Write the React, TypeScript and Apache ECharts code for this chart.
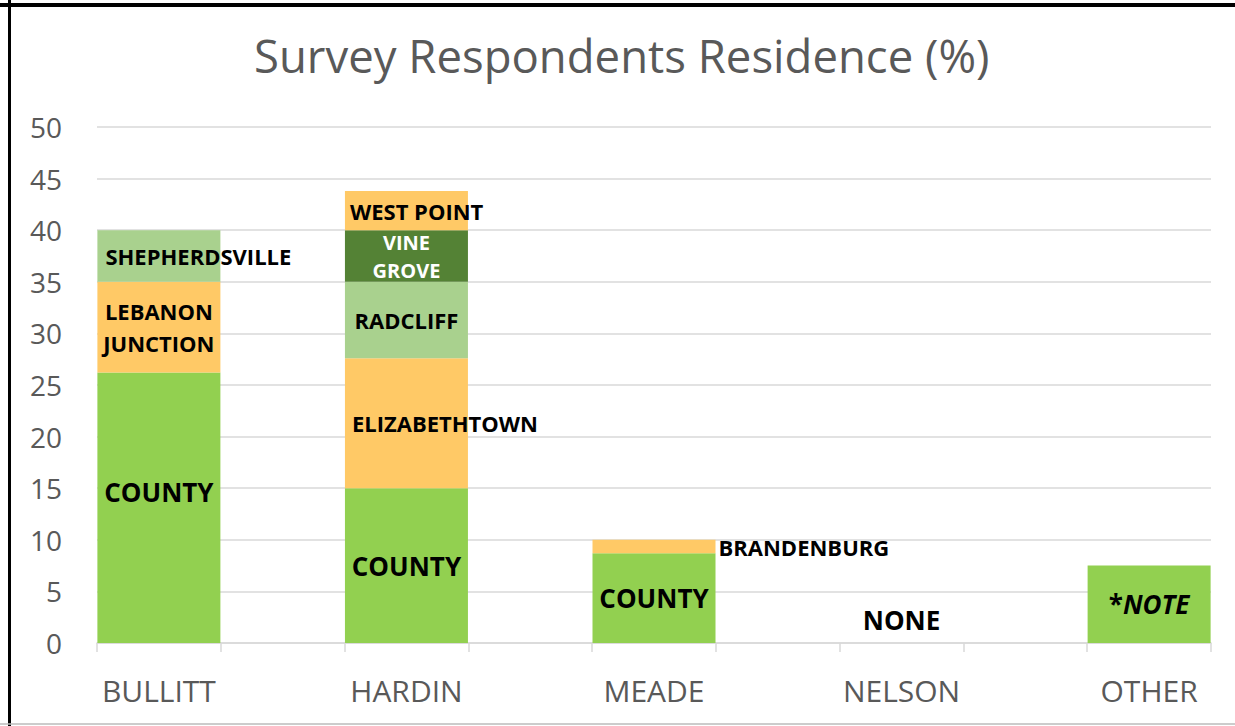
import React, { useEffect, useRef } from 'react';
import * as echarts from 'echarts';

const chartTitle = 'Survey Respondents Residence (%)';
const categories = ['BULLITT', 'HARDIN', 'MEADE', 'NELSON', 'OTHER'];
const yMin = 0;
const yMax = 50;
const yStep = 5;

// stacked layers, bottom to top (null = no segment)
const countyValues = [26.2, 15, 8.7, 0, 7.5];
const countyLabels = ['COUNTY', 'COUNTY', 'COUNTY', 'NONE', '*NOTE'];
const secondValues = [8.8, 12.6, 1.3, null, null];
const secondLabels = ['LEBANON\nJUNCTION', 'ELIZABETHTOWN', 'BRANDENBURG', '', ''];
const thirdValues = [5, 7.4, null, null, null];
const thirdLabels = ['SHEPHERDSVILLE', 'RADCLIFF', '', '', ''];
const fourthValues = [null, 5, null, null, null];
const fourthLabels = ['', 'VINE\nGROVE', '', '', ''];
const fifthValues = [null, 3.8, null, null, null];
const fifthLabels = ['', 'WEST POINT', '', '', ''];

const GREEN = '#92D050';
const ORANGE = '#FFC966';
const LIGHT_GREEN = '#A9D18E';
const DARK_GREEN = '#548235';
const FONT = '"Open Sans", sans-serif';

const placement: Record<string, any> = {
  SHEPHERDSVILLE: { position: 'insideLeft', distance: 8 },
  ELIZABETHTOWN: { position: 'insideLeft', distance: 7 },
  'WEST POINT': { position: 'insideLeft', distance: 5 },
  BRANDENBURG: { position: 'right', distance: 3 },
  NONE: { position: 'top', distance: 10, fontSize: 26 },
  'VINE\nGROVE': { position: 'inside', color: '#ffffff', fontSize: 20, lineHeight: 28 },
  'LEBANON\nJUNCTION': { position: 'inside', lineHeight: 32 },
  RADCLIFF: { position: 'inside' },
  COUNTY: { position: 'inside', fontSize: 26 },
};

function buildData(values: (number | null)[], labels: string[]) {
  const out: any[] = [];
  values.forEach((v, i) => {
    if (i > 0) out.push('-');
    if (v === null) {
      out.push('-');
      return;
    }
    const text = labels[i];
    let label: any = { show: !!text };
    if (text === '*NOTE') {
      label = {
        show: true,
        position: 'inside',
        formatter: '{a|*}{b|NOTE}',
        rich: {
          a: { fontFamily: FONT, fontWeight: 'bold', fontSize: 26, color: '#000' },
          b: { fontFamily: FONT, fontWeight: 'bold', fontStyle: 'italic', fontSize: 26, color: '#000' },
        },
      };
    } else if (text) {
      label = { show: true, formatter: text, ...(placement[text] || { position: 'inside' }) };
      if (text === 'COUNTY' && i === 0) label.offset = [0, -16];
    }
    out.push({ value: v, label });
  });
  return out;
}

const axisCategories: string[] = [];
categories.forEach((c, i) => {
  if (i > 0) axisCategories.push('gap' + i);
  axisCategories.push(c);
});

const layers = [
  { name: 'layer1', values: countyValues, labels: countyLabels, color: GREEN },
  { name: 'layer2', values: secondValues, labels: secondLabels, color: ORANGE },
  { name: 'layer3', values: thirdValues, labels: thirdLabels, color: LIGHT_GREEN },
  { name: 'layer4', values: fourthValues, labels: fourthLabels, color: DARK_GREEN },
  { name: 'layer5', values: fifthValues, labels: fifthLabels, color: ORANGE },
];

export default function App() {
  const ref = useRef<HTMLDivElement>(null);
  useEffect(() => {
    if (!ref.current) return;
    const chart = echarts.init(ref.current, undefined, { renderer: 'svg' });
    chart.setOption({
      animation: false,
      backgroundColor: '#ffffff',
      title: {
        text: chartTitle,
        left: 249,
        top: 27,
        textStyle: { fontFamily: FONT, fontSize: 45.5, fontWeight: 'normal', color: '#595959' },
      },
      grid: { left: 97, right: 24, top: 127, bottom: 83, containLabel: false },
      xAxis: {
        type: 'category',
        data: axisCategories,
        boundaryGap: true,
        axisLine: { show: true, lineStyle: { color: '#D9D9D9', width: 1.5 } },
        axisTick: { show: true, length: 9, lineStyle: { color: '#D9D9D9', width: 1.5 } },
        axisLabel: {
          interval: 0,
          margin: 32,
          fontFamily: FONT,
          fontSize: 30,
          color: '#595959',
          formatter: (v: string) => (v.startsWith('gap') ? '' : v),
        },
        splitLine: { show: false },
      },
      yAxis: {
        type: 'value',
        min: yMin,
        max: yMax,
        interval: yStep,
        axisLine: { show: false },
        axisTick: { show: false },
        axisLabel: { margin: 35, fontFamily: FONT, fontSize: 28, color: '#595959' },
        splitLine: { show: true, lineStyle: { color: '#D9D9D9', width: 1.5 } },
      },
      series: layers.map((l) => ({
        type: 'bar',
        name: l.name,
        stack: 'total',
        barWidth: 123,
        itemStyle: { color: l.color },
        label: { fontFamily: FONT, fontWeight: 'bold', fontSize: 22, color: '#000' },
        data: buildData(l.values, l.labels),
      })),
      graphic: [
        { type: 'line', shape: { x1: 9.5, y1: 0, x2: 9.5, y2: 726 }, style: { stroke: '#000', lineWidth: 3 } },
        { type: 'line', shape: { x1: 0, y1: 5, x2: 1235, y2: 5 }, style: { stroke: '#000', lineWidth: 4 } },
        { type: 'line', shape: { x1: 0, y1: 724, x2: 1235, y2: 724 }, style: { stroke: '#BBBBBB', lineWidth: 1.5 } },
      ],
    });
    return () => chart.dispose();
  }, []);
  return (
    <div
      ref={ref}
      style={{ position: 'fixed', left: 0, top: 0, width: 1235, height: 726 }}
    />
  );
}
